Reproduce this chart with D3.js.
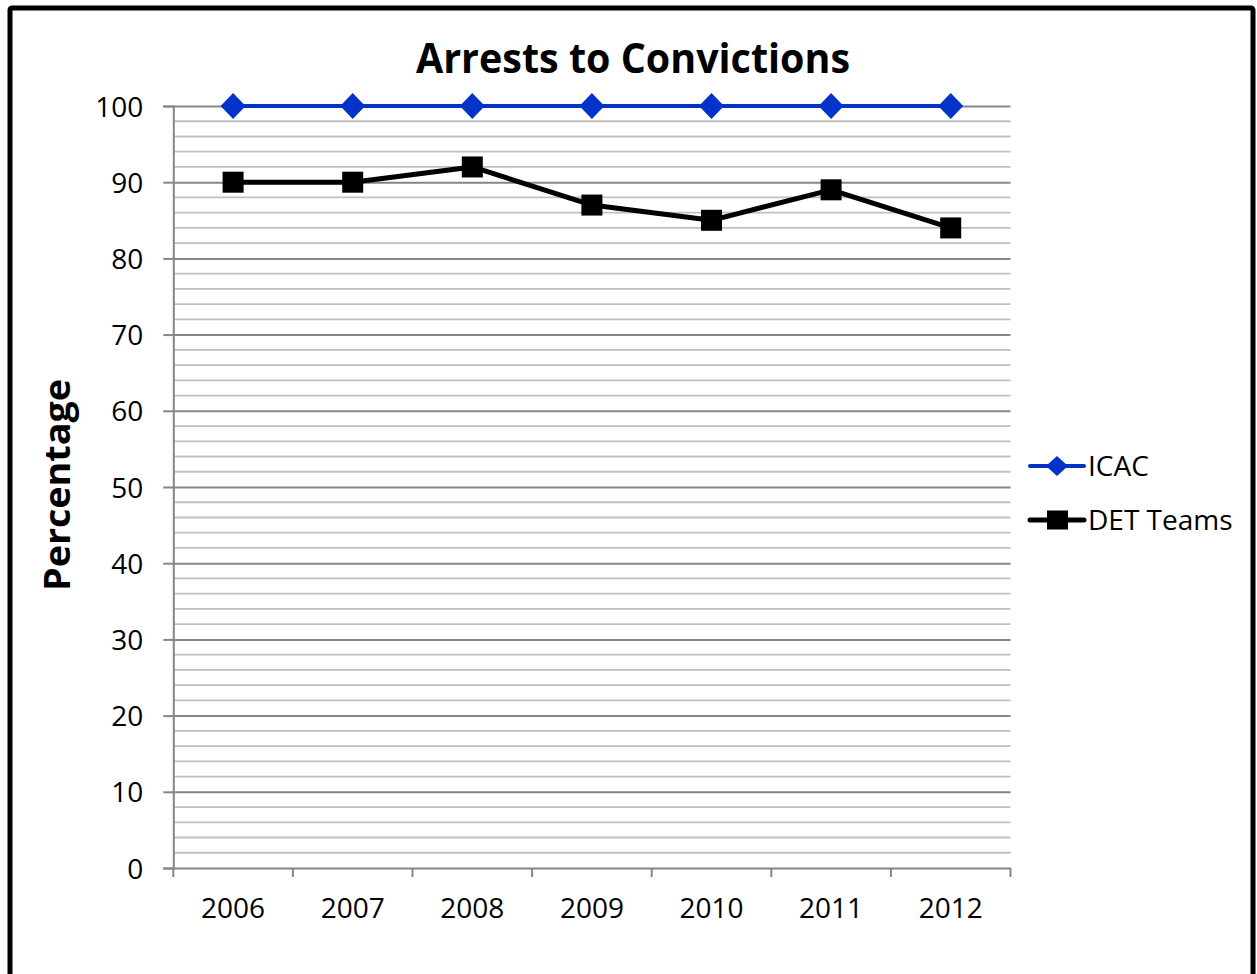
<!DOCTYPE html>
<html>
<head>
<meta charset="utf-8">
<script src="https://cdn.jsdelivr.net/npm/d3@7/dist/d3.min.js"></script>
<style>
  html, body { margin: 0; padding: 0; background: #fff; }
  svg { display: block; }
</style>
</head>
<body>
<script>
const years = ["2006", "2007", "2008", "2009", "2010", "2011", "2012"];
const icacValues = [100, 100, 100, 100, 100, 100, 100];
const detValues = [90, 90, 92, 87, 85, 89, 84];
const yTicks = [0, 10, 20, 30, 40, 50, 60, 70, 80, 90, 100];
const seriesNames = ["ICAC", "DET Teams"];
const chartTitle = "Arrests to Convictions";
const yAxisTitle = "Percentage";

const W = 1257, H = 974;
const svg = d3.select("body").append("svg").attr("width", W).attr("height", H);
svg.append("rect").attr("width", W).attr("height", H).attr("fill", "#fff");

// outer frame (extends past bottom)
svg.append("rect")
  .attr("x", 10).attr("y", 8).attr("width", 1243).attr("height", 1000)
  .attr("rx", 2)
  .attr("fill", "none").attr("stroke", "#000").attr("stroke-width", 5);

const x = d3.scaleBand().domain(years).range([173.3, 1010.5]);
const y = d3.scaleLinear().domain([0, 100]).range([868, 106]);
const [x0, x1] = x.range();

// minor gridlines every 2
const minor = d3.range(2, 100, 2).filter(v => v % 10 !== 0);
svg.append("g").selectAll("line").data(minor).join("line")
  .attr("x1", x0).attr("x2", x1)
  .attr("y1", d => y(d)).attr("y2", d => y(d))
  .attr("stroke", "#c0c0c0").attr("stroke-width", 1.8);

// y axis with major grid
const yAxis = d3.axisLeft(y).tickValues(yTicks).tickSize(10).tickPadding(20);
const gy = svg.append("g").attr("transform", `translate(${x0},0)`).call(yAxis);
gy.select(".domain").attr("stroke", "#868686").attr("stroke-width", 2);
gy.selectAll(".tick line").attr("stroke", "#868686").attr("stroke-width", 2);
gy.selectAll(".tick").filter(d => d > 0).append("line")
  .attr("x1", 0).attr("x2", x1 - x0)
  .attr("stroke", "#868686").attr("stroke-width", 2);
gy.selectAll(".tick text")
  .attr("font-family", "'Open Sans', sans-serif").attr("font-size", 28)
  .attr("fill", "#000").attr("dy", "0.36em");

// x axis
const xAxis = d3.axisBottom(x).tickSize(0).tickPadding(30);
const gx = svg.append("g").attr("transform", `translate(0,${y(0)})`).call(xAxis);
gx.select(".domain").attr("stroke", "#868686").attr("stroke-width", 2);
gx.selectAll(".tick text")
  .attr("font-family", "'Open Sans', sans-serif").attr("font-size", 28)
  .attr("fill", "#000").attr("dy", "0.71em");
// category boundary ticks
const bounds = years.map(d => x(d)).concat([x1]);
gx.append("g").selectAll("line").data(bounds).join("line")
  .attr("x1", d => d).attr("x2", d => d).attr("y1", 0).attr("y2", 9)
  .attr("stroke", "#868686").attr("stroke-width", 2);

const cx = d => x(d) + x.bandwidth() / 2;
const line = d3.line().x(d => cx(d.year)).y(d => y(d.v));

const icac = years.map((yr, i) => ({ year: yr, v: icacValues[i] }));
const det = years.map((yr, i) => ({ year: yr, v: detValues[i] }));

const blue = "#0433c9";

svg.append("path").datum(icac).attr("d", line)
  .attr("fill", "none").attr("stroke", blue).attr("stroke-width", 4);
svg.append("path").datum(det).attr("d", line)
  .attr("fill", "none").attr("stroke", "#000").attr("stroke-width", 5)
  .attr("stroke-linejoin", "round");

const diamond = (px, py, rx, ry) => `M${px},${py - ry}L${px + rx},${py}L${px},${py + ry}L${px - rx},${py}Z`;

svg.append("g").selectAll("path").data(icac).join("path")
  .attr("d", d => diamond(cx(d.year), y(d.v), 12.5, 13))
  .attr("fill", blue);
svg.append("g").selectAll("rect").data(det).join("rect")
  .attr("x", d => cx(d.year) - 10.5).attr("y", d => y(d.v) - 10.5)
  .attr("width", 21).attr("height", 21).attr("fill", "#000");

// title
svg.append("text")
  .attr("x", 633).attr("y", 73)
  .attr("text-anchor", "middle")
  .attr("font-family", "'Open Sans', sans-serif").attr("font-weight", "bold")
  .attr("font-size", 42)
  .attr("textLength", 434).attr("lengthAdjust", "spacingAndGlyphs")
  .text(chartTitle);

// y axis title
svg.append("text")
  .attr("transform", "translate(70,485) rotate(-90)")
  .attr("text-anchor", "middle")
  .attr("font-family", "'Open Sans', sans-serif").attr("font-weight", "bold")
  .attr("font-size", 35)
  .attr("textLength", 212).attr("lengthAdjust", "spacingAndGlyphs")
  .text(yAxisTitle);

// legend
const legend = svg.append("g");
const legY = [466, 520];
legend.append("line").attr("x1", 1030).attr("x2", 1084).attr("y1", legY[0]).attr("y2", legY[0])
  .attr("stroke", blue).attr("stroke-width", 4).attr("stroke-linecap", "round");
legend.append("path").attr("d", diamond(1057, legY[0], 11, 10)).attr("fill", blue);
legend.append("line").attr("x1", 1030).attr("x2", 1084).attr("y1", legY[1]).attr("y2", legY[1])
  .attr("stroke", "#000").attr("stroke-width", 5).attr("stroke-linecap", "round");
legend.append("rect").attr("x", 1047).attr("y", legY[1] - 9.5).attr("width", 21).attr("height", 19).attr("fill", "#000");
legend.selectAll("text").data(seriesNames).join("text")
  .attr("x", 1088).attr("y", (d, i) => legY[i] + 10)
  .attr("font-family", "'Open Sans', sans-serif").attr("font-size", 28)
  .attr("fill", "#000")
  .text(d => d);
</script>
</body>
</html>
